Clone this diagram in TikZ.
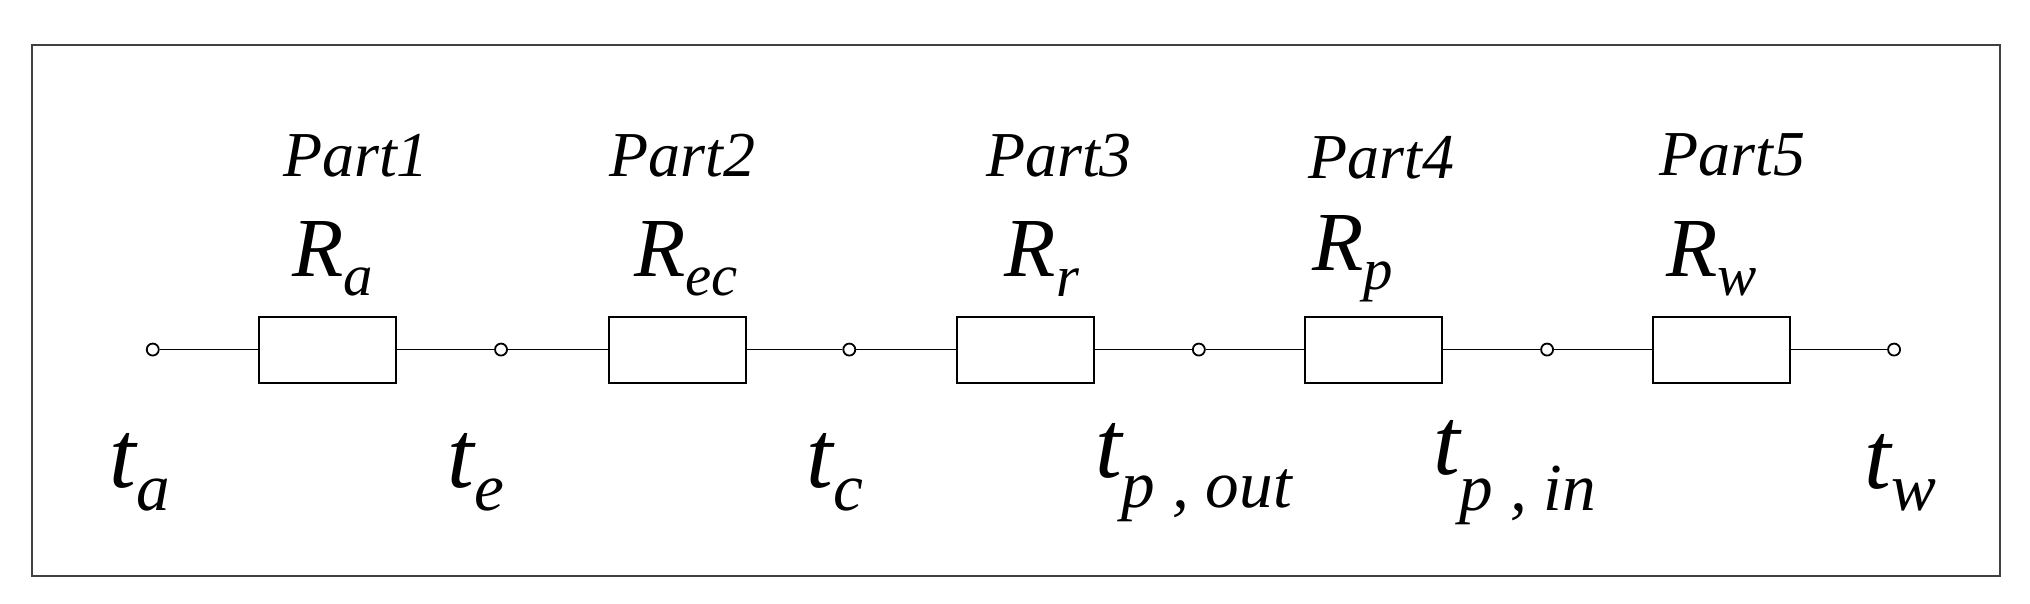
\documentclass[tikz,border=0pt]{standalone}
\usepackage{fontspec}
\setmainfont{Liberation Serif}
\begin{document}
\begin{tikzpicture}[x=1.2946pt,y=-1.2946pt,
  res/.style={draw,line width=2pt,minimum width=137pt,minimum height=66pt,inner sep=0pt},
  term/.style={circle,draw,line width=1.8pt,minimum size=12pt,inner sep=0pt,fill=white},
  wire/.style={line width=1.8pt},
  part/.style={font=\fontsize{64}{68}\selectfont\itshape},
  rlab/.style={font=\fontsize{84}{88}\selectfont\itshape},
  tlab/.style={font=\fontsize{96}{100}\selectfont\itshape}]
\useasboundingbox (0,0) rectangle (1568,466.5);
\draw[line width=2pt,draw=black!75] (25,35) rectangle (1545,445);
\foreach \n/\x in {0/118,1/387,2/656,3/926,4/1195,5/1463}
  \node[term] (t\n) at (\x,270) {};
\foreach \n/\x in {1/253,2/523,3/792,4/1061,5/1330}
  \node[res] (r\n) at (\x,270) {};
\draw[wire] (t0)--(r1) (r1)--(t1) (t1)--(r2) (r2)--(t2) (t2)--(r3) (r3)--(t3) (t3)--(r4) (r4)--(t4) (t4)--(r5) (r5)--(t5);
\node[part] (p1) at (275,120) {Part1};
\node[part] (p2) at (527,120) {Part2};
\node[part] (p3) at (818,120) {Part3};
\node[part] (p4) at (1067,122) {Part4};
\node[part] (p5) at (1338,120) {Part5};
\node[rlab] (l1) at (257,200) {R\textsubscript{a}};
\node[rlab] (l2) at (530,200) {R\textsubscript{ec}};
\node[rlab] (l3) at (805,200) {R\textsubscript{r}};
\node[rlab] (l4) at (1045,200) {R\textsubscript{p}};
\node[rlab] (l5) at (1322,200) {R\textsubscript{w}};
\node[tlab] (a0) at (108,365) {t\textsubscript{a}};
\node[tlab] (a1) at (368,365) {t\textsubscript{e}};
\node[tlab] (a2) at (645,365) {t\textsubscript{c}};
\node[tlab] (a3) at (922,365) {t\textsubscript{p , out}};
\node[tlab] (a4) at (1170,365) {t\textsubscript{p , in}};
\node[tlab] (a5) at (1468,365) {t\textsubscript{w}};
\end{tikzpicture}
\end{document}
